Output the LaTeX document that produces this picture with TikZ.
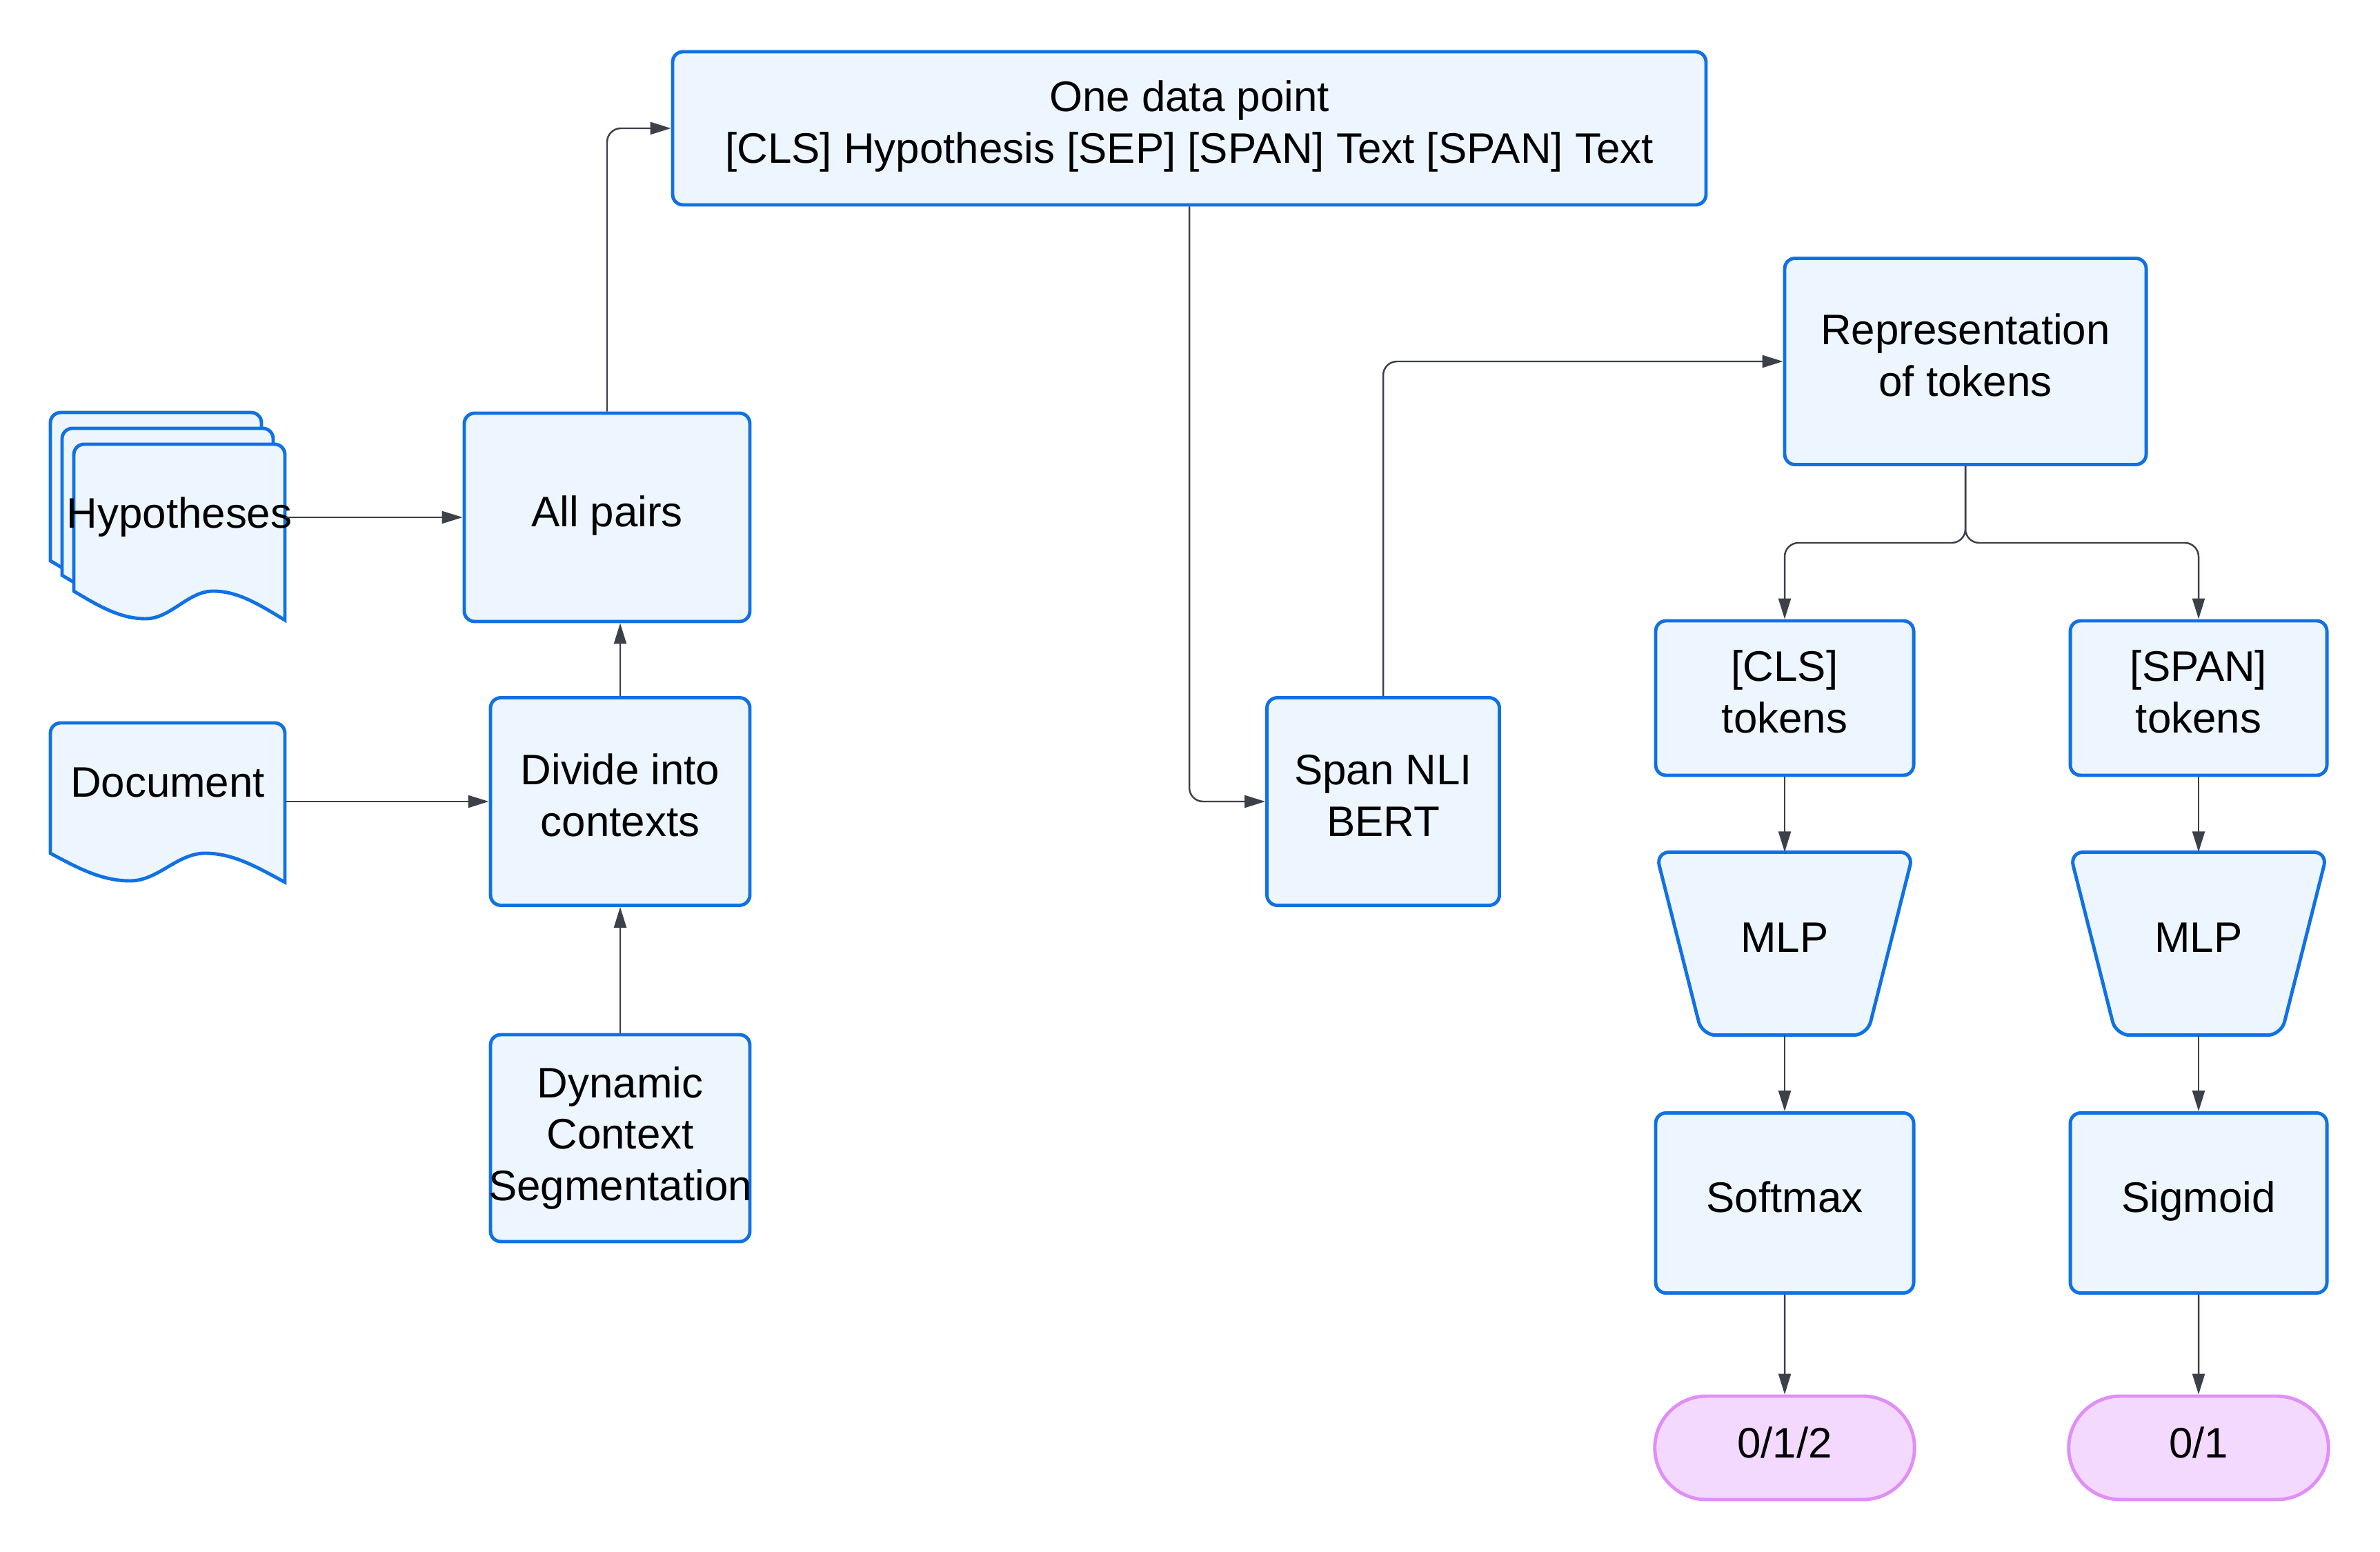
\documentclass[tikz,border=0pt]{standalone}
\usepackage{fontspec}
\setmainfont{Liberation Sans}
\usetikzlibrary{arrows.meta,shapes.misc}

\definecolor{boxfill}{HTML}{EDF5FF}
\definecolor{boxline}{HTML}{1071E5}
\definecolor{termfill}{HTML}{F3D9FE}
\definecolor{termline}{HTML}{E08EF8}
\definecolor{wirecol}{HTML}{3C4049}

% paper sheet with a wavy lower edge: x, y (top left), width, height of left side
\newcommand{\docsheet}[4]{%
  \filldraw[sheet] (#1+#3,#2-#4-0.42) [rounded corners=0.15cm] -- (#1+#3,#2) -- (#1,#2) [sharp corners] -- (#1,#2-#4)
    .. controls (#1+0.12*#3,#2-#4-0.22) and (#1+0.22*#3,#2-#4-0.40) .. (#1+0.34*#3,#2-#4-0.40)
    .. controls (#1+0.46*#3,#2-#4-0.40) and (#1+0.54*#3,#2-#4) .. (#1+0.66*#3,#2-#4)
    .. controls (#1+0.78*#3,#2-#4) and (#1+0.88*#3,#2-#4-0.2) .. (#1+#3,#2-#4-0.42) -- cycle;}
% funnel outline behind a node
\newcommand{\funnel}[1]{%
  \filldraw[sheet, rounded corners=0.2cm] (#1.north west) -- (#1.north east)
    -- ([xshift=-0.67cm]#1.south east) -- ([xshift=0.67cm]#1.south west) -- cycle;}

\begin{document}
\begin{tikzpicture}[
    every node/.style={font=\fontsize{17.6}{21.3}\selectfont},
    sheet/.style={draw=boxline, fill=boxfill, line width=1.4pt},
    box/.style={draw=boxline, fill=boxfill, line width=1.4pt, rounded corners=0.15cm, align=center, inner sep=0pt, text depth=0.18cm},
    mlp/.style={inner sep=0pt, minimum width=3.72cm, minimum height=2.64cm, text depth=0.18cm},
    term/.style={draw=termline, fill=termfill, line width=1.4pt, rounded rectangle, minimum width=4.0cm, minimum height=1.5cm, text depth=0.16cm},
    link/.style={draw=wirecol, line width=0.7pt, rounded corners=0.2cm, -{Triangle[length=0.3cm,width=0.18cm]}}
  ]
  \useasboundingbox (0,0) rectangle (34.5,-22.5);

  % input documents
  \docsheet{0.73}{-5.98}{3.06}{2.15}
  \docsheet{0.90}{-6.21}{3.06}{2.13}
  \docsheet{1.07}{-6.44}{3.06}{2.13}
  \node[inner sep=0pt, minimum width=3.06cm, minimum height=2.12cm] (hyp) at (2.60,-7.50) {\makebox[2.5cm]{Hypotheses}};
  \docsheet{0.73}{-10.48}{3.40}{1.89}
  \node[inner sep=0pt, minimum width=3.40cm, minimum height=2.28cm] (doc) at (2.43,-11.62) {};
  \node (doctxt) at (2.43,-11.35) {Document};

  \node[box, minimum width=14.98cm, minimum height=2.22cm] (datapt) at (17.24,-1.86) {One data point\\{}[CLS] Hypothesis [SEP] [SPAN] Text [SPAN] Text};
  \node[box, minimum width=4.14cm, minimum height=3.02cm] (pairs) at (8.80,-7.50) {All pairs};
  \node[box, minimum width=3.76cm, minimum height=3.01cm] (divide) at (8.99,-11.62) {Divide into\\contexts};
  \node[box, minimum width=3.76cm, minimum height=3.00cm, text depth=0.13cm] (dcs) at (8.99,-16.50) {Dynamic\\Context\\\makebox[3cm]{Segmentation}};
  \node[box, minimum width=3.37cm, minimum height=3.01cm] (spanbert) at (20.05,-11.62) {Span NLI\\BERT};
  \node[box, minimum width=5.24cm, minimum height=2.99cm] (reptok) at (28.49,-5.24) {Representation\\of tokens};

  \node[box, minimum width=3.74cm, minimum height=2.24cm] (cls) at (25.87,-10.12) {{[CLS]}\\tokens};
  \node[box, minimum width=3.72cm, minimum height=2.24cm] (spantok) at (31.87,-10.12) {{[SPAN]}\\tokens};
  \node[mlp] (mlpA) at (25.87,-13.68) {};
  \node[mlp] (mlpB) at (31.87,-13.68) {};
  \funnel{mlpA}
  \funnel{mlpB}
  \node[mlp] (mlpAtxt) at (mlpA) {MLP};
  \node[mlp] (mlpBtxt) at (mlpB) {MLP};
  \node[box, minimum width=3.74cm, minimum height=2.61cm] (soft) at (25.87,-17.44) {Softmax};
  \node[box, minimum width=3.72cm, minimum height=2.61cm] (sigm) at (31.87,-17.44) {Sigmoid};
  \node[term] (outA) at (25.87,-20.99) {0/1/2};
  \node[term] (outB) at (31.87,-20.99) {0/1};

  \coordinate (fork) at (28.49,-7.87);

  \draw[link] (hyp.east) -- (pairs.west);
  \draw[link] (doc) -- (divide);
  \draw[link] (dcs) -- (divide);
  \draw[link] (divide.north) -- (divide.north |- pairs.south);
  \draw[link] (pairs.north) |- (datapt.west);
  \draw[link] (datapt.south) |- (spanbert.west);
  \draw[link] (spanbert.north) |- (reptok.west);
  \draw[link] (reptok.south) -- (fork) -| (cls.north);
  \draw[link] (reptok.south) -- (fork) -| (spantok.north);
  \draw[link] (cls) -- (mlpA); \draw[link] (mlpA) -- (soft); \draw[link] (soft) -- (outA);
  \draw[link] (spantok) -- (mlpB); \draw[link] (mlpB) -- (sigm); \draw[link] (sigm) -- (outB);
\end{tikzpicture}
\end{document}
